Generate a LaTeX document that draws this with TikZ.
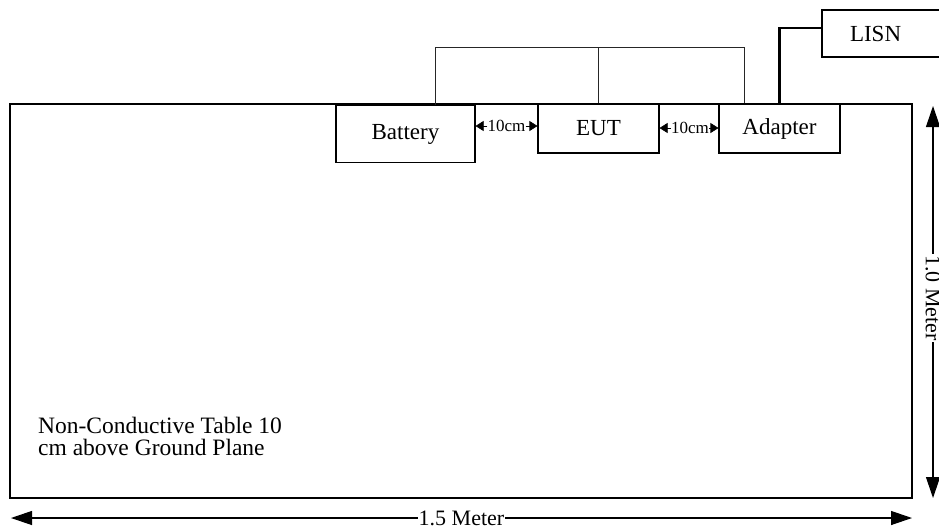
\documentclass[tikz,border=0pt]{standalone}
\usepackage{fontspec}
\setmainfont{Liberation Serif}
\usetikzlibrary{arrows.meta, positioning}

\tikzset{
  unit/.style={draw, line width=1.1pt, inner sep=0pt, font=\fontsize{23}{23}\selectfont},
  wire/.style={line width=0.8pt, black!85},
  power/.style={line width=2.6pt},
  gap/.style={inner sep=0pt, font=\fontsize{17}{17}\selectfont},
  gaptip/.style={-{Triangle[length=8pt,width=10pt]}, line width=0.6pt},
  dim/.style={{Triangle[length=21pt,width=14pt]}-{Triangle[length=21pt,width=14pt]}, line width=1.2pt}
}

\begin{document}
\begin{tikzpicture}[x=1pt, y=-1pt]
    \useasboundingbox (0,0) rectangle (939,528);
    \clip (0,0) rectangle (939,528);

    % Equipment on the table
    \node[unit, minimum width=139pt, minimum height=57pt] (battery) at (405.5,134) {Battery};
    \node[unit, minimum width=121pt, minimum height=49pt] (eut) at (598.5,128.5) {EUT};
    \node[unit, minimum width=121pt, minimum height=49pt] (adapter) at (779.5,128.5) {Adapter};
    \node[unit, minimum width=120pt, minimum height=47pt, text width=112pt, align=left] (lisn) at (882,33.5) {\hspace*{24pt}LISN};

    % Table outline
    \draw[line width=2.6pt] (10,104) rectangle (912,498);
    \node[anchor=north west, inner sep=0pt, align=left, font=\fontsize{23.5}{22}\selectfont] (table) at (38,417)
        {Non-Conductive Table 10\\cm above Ground Plane};

    % Cables between the units
    \coordinate (busL) at (435,47);
    \coordinate (busR) at (744,47);
    \draw[wire] (battery.north -| busL) -- (busL) -- (busR) -- (adapter.north -| busR);
    \draw[wire] (eut.north) -- (eut.north |- busL);
    \draw[power] (adapter.north) |- ([yshift=5.5pt]lisn.west);

    % 10 cm spacings
    \node[gap] (gapA) at (506.5,126) {10cm};
    \draw[gaptip] (gapA.west) -- (gapA.west -| battery.east);
    \draw[gaptip] (gapA.east) -- (gapA.east -| eut.west);
    \node[gap] (gapB) at (690,128) {10cm};
    \draw[gaptip] (gapB.west) -- (gapB.west -| eut.east);
    \draw[gaptip] (gapB.east) -- (gapB.east -| adapter.west);

    % Table dimensions
    \coordinate (wL) at (11,518);
    \coordinate (wR) at (912,518);
    \draw[dim] (wL) -- (wR) node[midway, fill=white, inner sep=1pt, font=\fontsize{22}{22}\selectfont] (width) {1.5 Meter};
    \coordinate (hT) at (933,106);
    \coordinate (hB) at (933,498);
    \draw[dim] (hT) -- (hB) node[pos=0.49, rotate=-90, fill=white, inner sep=1pt, font=\fontsize{22}{22}\selectfont] (depth) {1.0 Meter};
\end{tikzpicture}
\end{document}
